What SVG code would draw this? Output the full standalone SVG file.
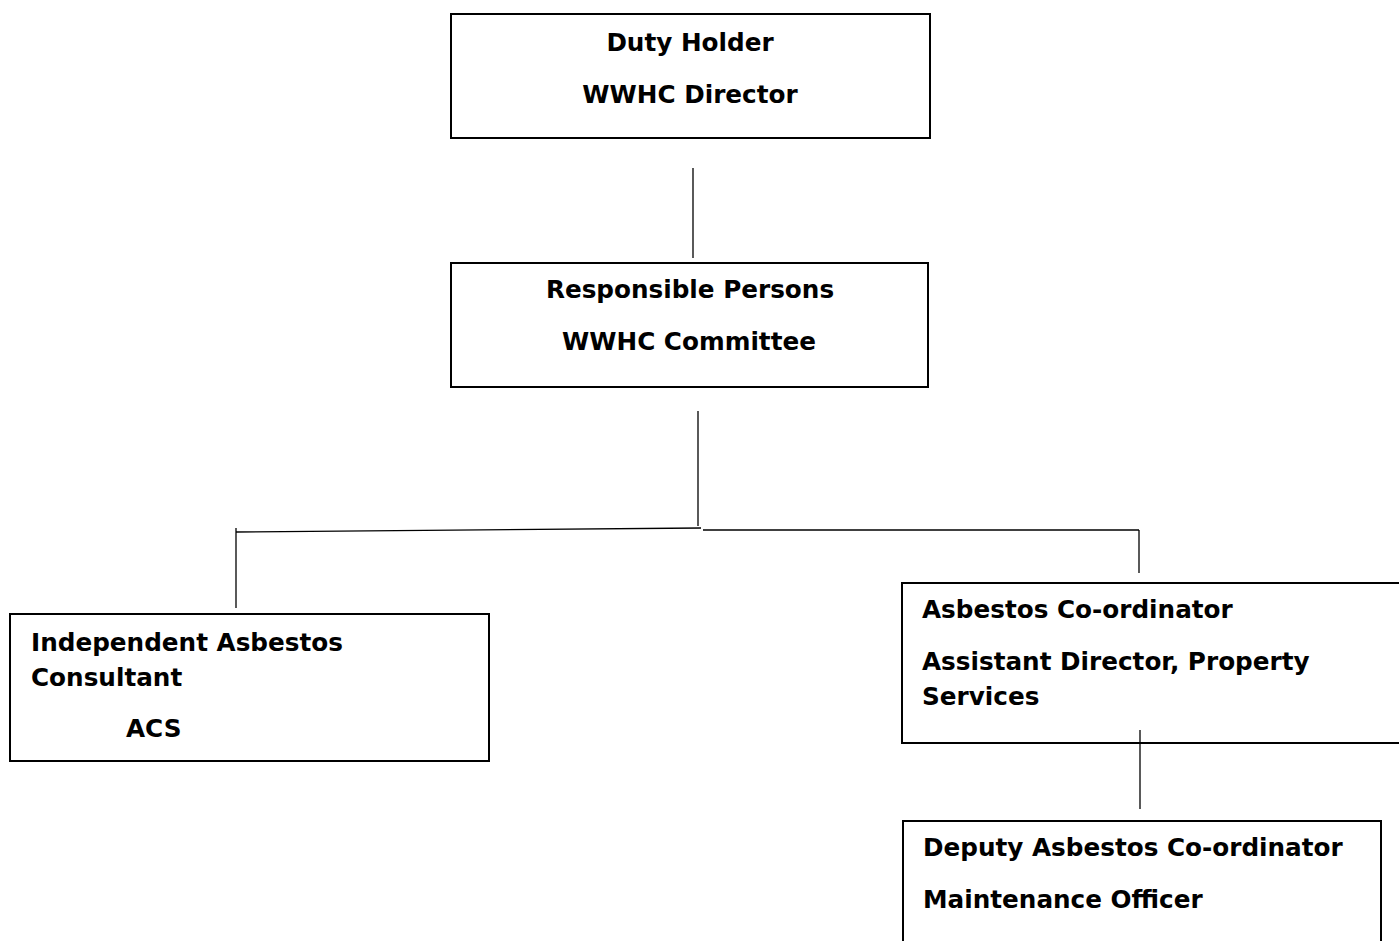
<svg xmlns="http://www.w3.org/2000/svg" width="1399" height="941" viewBox="0 0 1399 941">
<style>
.box{fill:#fff;stroke:#000;stroke-width:2}
.t{font-family:"DejaVu Sans","Liberation Sans",sans-serif;font-weight:bold;font-size:24.7px;fill:#000}
.c{text-anchor:middle}
.ln{stroke:#000;stroke-width:1.3;fill:none}
</style>
<rect width="1399" height="941" fill="#fff"/>
<g id="connectors">
<line class="ln" x1="693" y1="168" x2="693" y2="258"/>
<line class="ln" x1="698" y1="411" x2="698" y2="526"/>
<line class="ln" x1="236" y1="532" x2="701" y2="528"/>
<line class="ln" x1="703" y1="530" x2="1139" y2="530"/>
<line class="ln" x1="236" y1="528" x2="236" y2="608"/>
<line class="ln" x1="1139" y1="530" x2="1139" y2="573"/>
</g>
<g id="duty-holder">
<rect class="box" x="451" y="14" width="479" height="124"/>
<text class="t c" x="690" y="51">Duty Holder</text>
<text class="t c" x="690" y="103">WWHC Director</text>
</g>
<g id="responsible-persons">
<rect class="box" x="451" y="263" width="477" height="124"/>
<text class="t c" x="690" y="298">Responsible Persons</text>
<text class="t c" x="689" y="350">WWHC Committee</text>
</g>
<g id="consultant">
<rect class="box" x="10" y="614" width="479" height="147"/>
<text class="t" x="31" y="651">Independent Asbestos</text>
<text class="t" x="31" y="686">Consultant</text>
<text class="t" x="126" y="737">ACS</text>
</g>
<g id="coordinator">
<rect class="box" x="902" y="583" width="510" height="160"/>
<text class="t" x="922" y="618">Asbestos Co-ordinator</text>
<text class="t" x="922" y="670">Assistant Director, Property</text>
<text class="t" x="922" y="705">Services</text>
</g>
<g id="connector-lower">
<line class="ln" x1="1140" y1="730" x2="1140" y2="809"/>
</g>
<g id="deputy">
<rect class="box" x="903" y="821" width="478" height="140"/>
<text class="t" x="923" y="856">Deputy Asbestos Co-ordinator</text>
<text class="t" x="923" y="908">Maintenance Officer</text>
</g>
</svg>
